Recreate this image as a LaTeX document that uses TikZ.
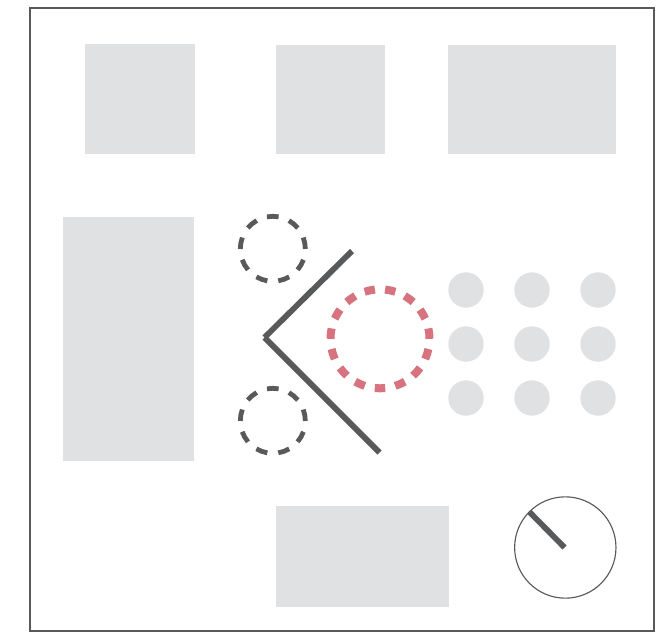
\documentclass[tikz,border=0pt]{standalone}
\definecolor{blk}{HTML}{E0E1E3}
\definecolor{dk}{HTML}{58595B}
\definecolor{rs}{HTML}{D6737F}
\tikzset{x=0.75pt,y=-0.75pt,
 block/.style={fill=blk,draw=none},
 dashring/.style={draw=dk,line width=3.6pt},
 rosering/.style={draw=rs,line width=6pt},
 wall/.style={draw=dk,line width=4.3pt}}
\begin{document}
\begin{tikzpicture}
\useasboundingbox (0,0) rectangle (661,643);
\draw[dk,line width=1.6pt] (30,8) rectangle (654,631);
\fill[block] (85,44) rectangle (195,154);
\fill[block] (276,45) rectangle (385,154);
\fill[block] (448,45) rectangle (616,154);
\fill[block] (63,217) rectangle (194,461);
\fill[block] (276,506) rectangle (449,607);
\foreach \x in {466,532,598}\foreach \y in {290,344,398}\fill[block] (\x,\y) circle[radius=17.7];
\foreach \c in {248.8,420.8}
  \foreach \k in {0,...,8}{
    \pgfmathsetmacro{\st}{270+40*\k-10.3}
    \draw[dashring] (272.8,\c) ++(\st:32.5) arc[start angle=\st,delta angle=20.6,radius=32.5];
  }
\foreach \k in {0,...,14}{
  \pgfmathsetmacro{\st}{90+24*\k-6.1}
  \draw[rosering] (380,338.8) ++(\st:49.5) arc[start angle=\st,delta angle=12.2,radius=49.5];
}
\coordinate (apex) at (264.5,337.5);
\coordinate (a) at (352,251);
\coordinate (b) at (379.5,452.5);
\draw[wall] (a) -- (apex);
\draw[wall] (apex) -- (b);
\node[circle,draw=dk,line width=0.85pt,minimum size=76pt,inner sep=0pt] (dial) at (565.3,547.5) {};
\coordinate (h) at (529.5,512);
\coordinate (p) at (564.5,547.5);
\draw[wall] (p) -- (h);
\end{tikzpicture}
\end{document}
